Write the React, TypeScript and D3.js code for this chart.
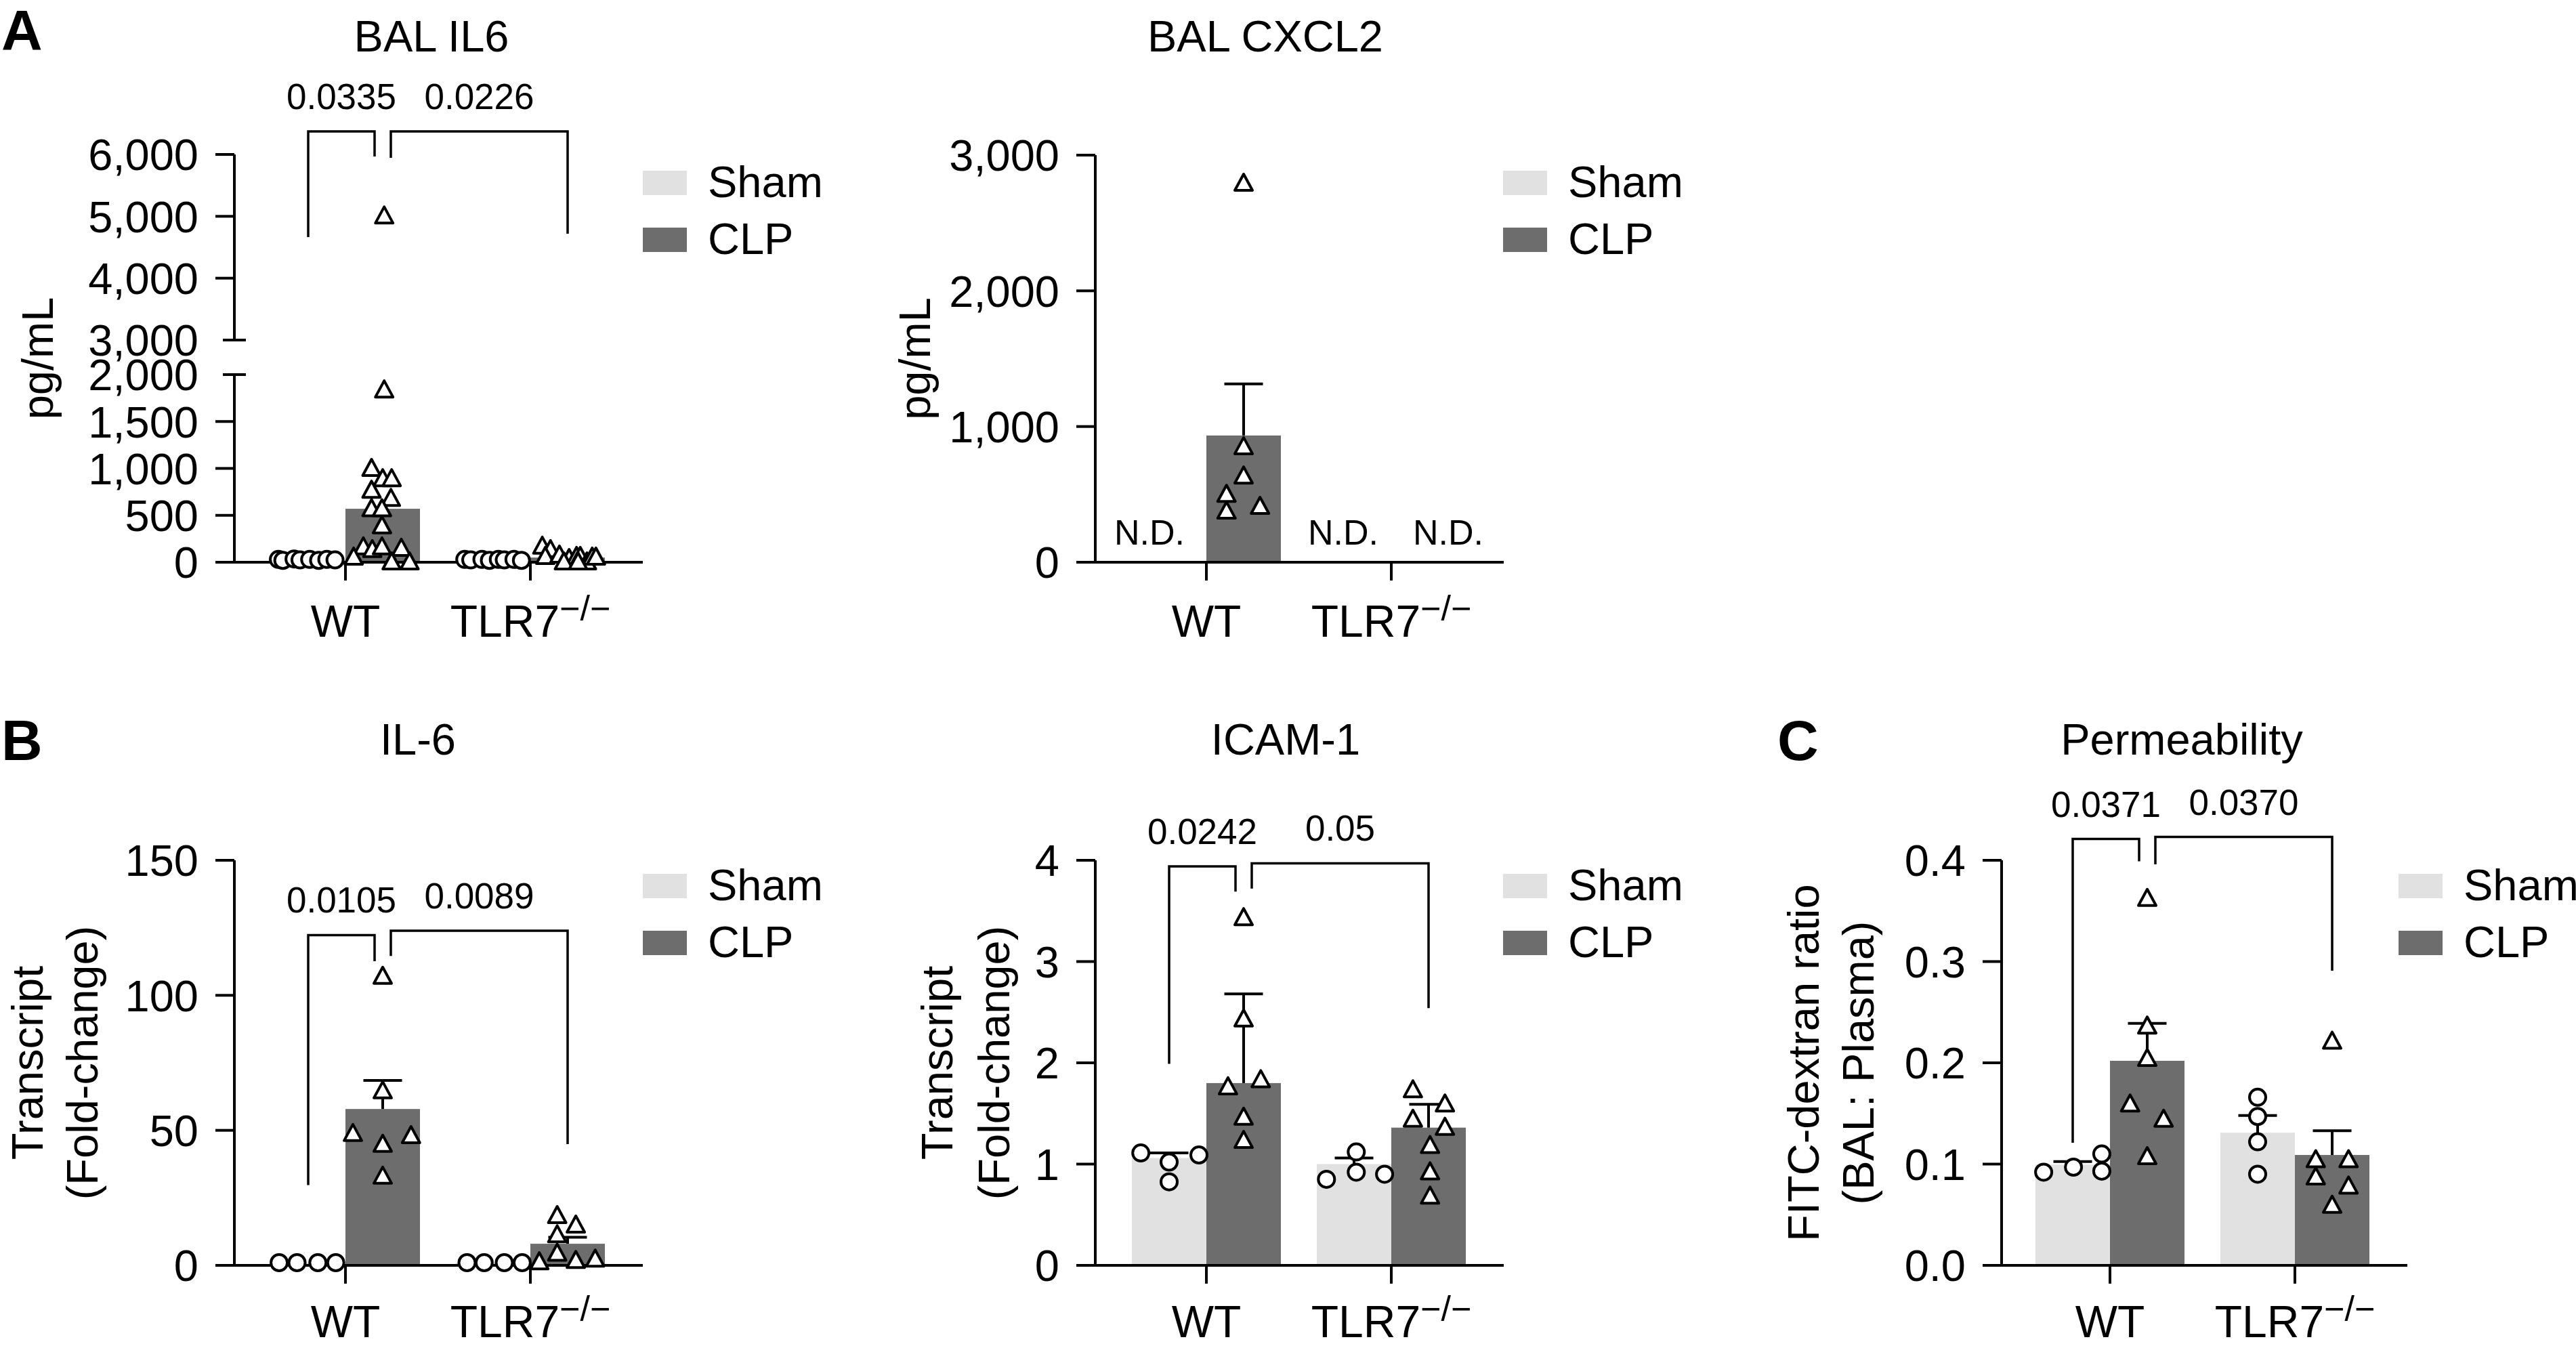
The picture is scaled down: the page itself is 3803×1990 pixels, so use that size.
import React from "react";
import * as d3 from "d3";

type Pt = [number, number]; // [value, horizontal jitter as fraction of bar width]

const GROUPS = ["WT", "TLR7"];
const SERIES = ["Sham", "CLP"];

// ---------------- A: BAL IL6 (pg/mL) ----------------
const balIl6Mean: (number | null)[][] = [[25, 570], [25, 50]];
const balIl6Sem: (number | null)[][] = [[null, null], [null, null]];
const balIl6ShamWT: Pt[] = [[30, -0.4], [20, -0.34], [35, -0.19], [25, -0.11], [30, 0.02], [20, 0.14], [30, 0.25], [25, 0.36]];
const balIl6ClpWT: Pt[] = [[5000, 0.02], [1833, 0.02], [996, -0.15], [887, 0.0], [887, 0.12], [764, -0.15], [676, 0.11], [567, -0.15], [567, -0.01], [385, -0.01], [160, -0.26], [131, -0.14], [160, -0.01], [145, 0.25], [51, -0.39], [0, 0.12], [0, 0.36]];
const balIl6ShamTLR: Pt[] = [[30, -0.38], [25, -0.3], [30, -0.15], [20, -0.05], [30, 0.07], [25, 0.15], [30, 0.28], [20, 0.38]];
const balIl6ClpTLR: Pt[] = [[167, -0.34], [131, -0.23], [58, -0.3], [73, -0.11], [36, 0.02], [58, 0.12], [58, 0.17], [0, 0.26], [51, 0.33], [51, 0.38], [0, -0.05], [0, 0.14]];
const balIl6Ticks = [[0, 500, 1000, 1500, 2000], [3000, 4000, 5000, 6000]];
const balIl6Domains = [[0, 2000], [3000, 6000]];

// ---------------- A: BAL CXCL2 (pg/mL) ----------------
const balCxcl2Mean: (number | null)[][] = [[null, 934], [null, null]];
const balCxcl2Sem: (number | null)[][] = [[null, 380], [null, null]];
const balCxcl2ClpWT: Pt[] = [[2790, 0], [849, 0], [633, 0], [498, -0.23], [374, -0.23], [409, 0.22]];
const balCxcl2Ticks = [[0, 1000, 2000, 3000]];
const balCxcl2Domains = [[0, 3000]];

// ---------------- B: IL-6 transcript ----------------
const il6Mean: (number | null)[][] = [[1, 57.9], [1, 8.0]];
const il6Sem: (number | null)[][] = [[null, 10.6], [null, 2.4]];
const il6ShamWT: Pt[] = [[1, -0.39], [1, -0.15], [1, 0.13], [1, 0.37]];
const il6ClpWT: Pt[] = [[106.9, 0.0], [64.5, 0.0], [48.7, -0.4], [47.9, 0.38], [44.7, 0.0], [32.9, 0.0]];
const il6ShamTLR: Pt[] = [[1, -0.35], [1, -0.12], [1, 0.15], [1, 0.39]];
const il6ClpTLR: Pt[] = [[18.3, -0.14], [14.8, 0.11], [11.2, -0.14], [4.4, -0.14], [1.2, -0.38], [1.7, 0.11], [2.2, 0.37]];
const il6Ticks = [[0, 50, 100, 150]];
const il6Domains = [[0, 150]];

// ---------------- B: ICAM-1 transcript ----------------
const icamMean: (number | null)[][] = [[1.06, 1.8], [1.0, 1.36]];
const icamSem: (number | null)[][] = [[0.05, 0.88], [0.06, 0.23]];
const icamShamWT: Pt[] = [[1.11, -0.38], [1.02, 0.0], [0.825, 0.0], [1.09, 0.4]];
const icamClpWT: Pt[] = [[3.43, 0], [2.43, 0], [1.76, -0.21], [1.83, 0.23], [1.46, 0], [1.23, 0]];
const icamShamTLR: Pt[] = [[0.85, -0.37], [1.12, 0.03], [0.92, 0.03], [0.9, 0.41]];
const icamClpTLR: Pt[] = [[1.73, -0.21], [1.59, 0.22], [1.44, -0.21], [1.36, 0.22], [1.18, 0.02], [0.92, 0.02], [0.68, 0.02]];
const icamTicks = [[0, 1, 2, 3, 4]];
const icamDomains = [[0, 4]];

// ---------------- C: Permeability ----------------
const permMean: (number | null)[][] = [[0.0995, 0.202], [0.131, 0.109]];
const permSem: (number | null)[][] = [[0.003, 0.037], [0.017, 0.024]];
const permShamWT: Pt[] = [[0.092, -0.39], [0.097, 0.01], [0.11, 0.39], [0.093, 0.39]];
const permClpWT: Pt[] = [[0.362, 0], [0.236, 0], [0.204, 0], [0.159, -0.23], [0.144, 0.22], [0.107, 0]];
const permShamTLR: Pt[] = [[0.166, 0], [0.147, 0], [0.122, 0], [0.09, 0]];
const permClpTLR: Pt[] = [[0.221, 0], [0.104, -0.22], [0.104, 0.22], [0.087, -0.22], [0.078, 0.22], [0.059, 0]];
const permTicks = [[0, 0.1, 0.2, 0.3, 0.4]];
const permDomains = [[0, 0.4]];

// ---------------- significance annotations ----------------
type Bracket = { p: string; top: number; leftEnd: number; rightEnd: number; from: [number, number]; to: [number, number]; gap: "right" | "left" };
const balIl6Brackets: Bracket[] = [
  { p: "0.0335", top: 6372, leftEnd: 4664, rightEnd: 5967, from: [0, 0], to: [0, 1], gap: "right" },
  { p: "0.0226", top: 6372, leftEnd: 5945, rightEnd: 4719, from: [0, 1], to: [1, 1], gap: "left" },
];
const il6Brackets: Bracket[] = [
  { p: "0.0105", top: 122.3, leftEnd: 29.7, rightEnd: 112.6, from: [0, 0], to: [0, 1], gap: "right" },
  { p: "0.0089", top: 123.9, leftEnd: 114.6, rightEnd: 44.9, from: [0, 1], to: [1, 1], gap: "left" },
];
const icamBrackets: Bracket[] = [
  { p: "0.0242", top: 3.94, leftEnd: 1.99, rightEnd: 3.69, from: [0, 0], to: [0, 1], gap: "right" },
  { p: "0.05", top: 3.97, leftEnd: 3.72, rightEnd: 2.54, from: [0, 1], to: [1, 1], gap: "left" },
];
const permBrackets: Bracket[] = [
  { p: "0.0371", top: 0.421, leftEnd: 0.121, rightEnd: 0.399, from: [0, 0], to: [0, 1], gap: "right" },
  { p: "0.0370", top: 0.423, leftEnd: 0.396, rightEnd: 0.291, from: [0, 1], to: [1, 1], gap: "left" },
];

// ---------------- styling ----------------
const FONT = "'Liberation Sans', Arial, Helvetica, sans-serif";
const LIGHT = "#e1e1e1";
const DARK = "#6d6d6d";
const SW = 4;
const BARW = 110;
const FS = 65;

type PanelCfg = {
  title: string;
  titleX: number;
  axisX: number;
  axisY: number;
  groupX: [number, number];
  ranges: [number, number][];
  domains: number[][];
  ticks: number[][];
  fmt: (v: number) => string;
  ylabel: string[];
  ylabelX: number[];
  legendX: number;
  xLabelDy: number;
  mean: (number | null)[][];
  sem: (number | null)[][];
  points: Pt[][][];
  brackets: Bracket[];
  ndDx?: (number | null)[][];
};

const triPath = "M0,-14 L13,10 L-13,10 Z";

function Panel({ c }: { c: PanelCfg }) {
  const scales = c.domains.map((d, i) => d3.scaleLinear().domain(d).range(c.ranges[i]));
  const y = (v: number) => {
    for (let i = scales.length - 1; i >= 0; i--) {
      if (v >= c.domains[i][0] || i === 0) return scales[i](v);
    }
    return scales[0](v);
  };
  const xg = d3.scalePoint<string>().domain(GROUPS).range(c.groupX);
  const barCenter = (g: number, s: number) => (xg(GROUPS[g]) as number) + (s === 0 ? -BARW / 2 : BARW / 2);
  const topTick = c.ranges[c.ranges.length - 1][1];
  const broken = scales.length > 1;
  const rowTitleY = c.axisY - 754;

  return (
    <g>
      <text x={c.titleX} y={rowTitleY} textAnchor="middle" fontSize={FS} fontFamily={FONT}>{c.title}</text>
      {/* bars */}
      {c.mean.map((row, gi) =>
        row.map((m, si) =>
          m === null ? null : (
            <rect key={`b${gi}${si}`} x={barCenter(gi, si) - BARW / 2} y={y(m)} width={BARW} height={c.axisY - y(m)} fill={si === 0 ? LIGHT : DARK} />
          )
        )
      )}
      {/* N.D. labels */}
      {c.ndDx &&
        c.ndDx.map((row, gi) =>
          row.map((dx, si) =>
            dx === null ? null : (
              <text key={`nd${gi}${si}`} x={barCenter(gi, si) + dx} y={c.axisY - 26} textAnchor="middle" fontSize={52} fontFamily={FONT}>N.D.</text>
            )
          )
        )}
      {/* error bars */}
      {c.sem.map((row, gi) =>
        row.map((e, si) => {
          const m = c.mean[gi][si];
          if (e === null || m === null) return null;
          const cx = barCenter(gi, si);
          return (
            <g key={`e${gi}${si}`} stroke="#000" strokeWidth={SW}>
              <line x1={cx} x2={cx} y1={y(m)} y2={y(m + e)} />
              <line x1={cx - 28.5} x2={cx + 28.5} y1={y(m + e)} y2={y(m + e)} />
            </g>
          );
        })
      )}
      {/* axes */}
      <g stroke="#000" strokeWidth={SW} fill="none">
        {c.ranges.map((r, i) => (
          <line key={`ya${i}`} x1={c.axisX} x2={c.axisX} y1={r[0] + (i === 0 ? SW / 2 : 0)} y2={r[1]} />
        ))}
        {c.ticks.map((ts, si) =>
          ts.map((t) => {
            const isBreak = broken && ((si === 0 && t === c.domains[0][1]) || (si === 1 && t === c.domains[1][0]));
            const yy = scales[si](t);
            return isBreak ? (
              <line key={`t${si}${t}`} x1={c.axisX - 17} x2={c.axisX + 17} y1={yy} y2={yy} />
            ) : (
              <line key={`t${si}${t}`} x1={c.axisX - 28} x2={c.axisX} y1={yy} y2={yy} />
            );
          })
        )}
        <line x1={c.axisX - 28} x2={c.groupX[1] + 166} y1={c.axisY} y2={c.axisY} />
        {GROUPS.map((g) => (
          <line key={`xt${g}`} x1={xg(g)} x2={xg(g)} y1={c.axisY} y2={c.axisY + 27} />
        ))}
      </g>
      {c.ticks.map((ts, si) =>
        ts.map((t) => (
          <text key={`tl${si}${t}`} x={c.axisX - 53} y={scales[si](t)} dy="0.36em" textAnchor="end" fontSize={FS} fontFamily={FONT}>
            {c.fmt(t)}
          </text>
        ))
      )}
      {/* x labels */}
      <text x={xg("WT")} y={c.axisY + c.xLabelDy} textAnchor="middle" fontSize={66} fontFamily={FONT}>WT</text>
      <text x={xg("TLR7")} y={c.axisY + c.xLabelDy} textAnchor="middle" fontSize={66} fontFamily={FONT}>
        TLR7<tspan dy={-24} fontSize={52}>{"\u2212/\u2212"}</tspan>
      </text>
      {/* y label */}
      {c.ylabel.map((l, i) => (
        <text
          key={`yl${i}`}
          transform={`translate(${c.ylabelX[i]},${(c.axisY + topTick) / 2}) rotate(-90)`}
          textAnchor="middle"
          dominantBaseline="central"
          fontSize={FS}
          fontFamily={FONT}
        >
          {l}
        </text>
      ))}
      {/* points */}
      {c.points.map((row, gi) =>
        row.map((pts, si) =>
          pts.map((p, k) => {
            const cx = barCenter(gi, si) + p[1] * BARW;
            const cy = y(p[0]);
            return si === 0 ? (
              <circle key={`p${gi}${si}${k}`} cx={cx} cy={cy} r={12} fill="#fff" stroke="#000" strokeWidth={SW} />
            ) : (
              <path key={`p${gi}${si}${k}`} d={triPath} transform={`translate(${cx},${cy})`} fill="#fff" stroke="#000" strokeWidth={SW} strokeLinejoin="round" />
            );
          })
        )
      )}
      {/* brackets */}
      {c.brackets.map((b, i) => {
        let xa = barCenter(b.from[0], b.from[1]);
        let xb = barCenter(b.to[0], b.to[1]);
        if (b.gap === "right") xb -= 12;
        else xa += 12;
        const yt = y(b.top);
        return (
          <g key={`br${i}`}>
            <path d={`M${xa},${y(b.leftEnd)} V${yt} H${xb} V${y(b.rightEnd)}`} fill="none" stroke="#000" strokeWidth={3.5} />
            <text x={(xa + xb) / 2} y={yt - 33} textAnchor="middle" fontSize={53} fontFamily={FONT}>{b.p}</text>
          </g>
        );
      })}
      {/* legend */}
      {SERIES.map((s, i) => (
        <g key={`lg${s}`}>
          <rect x={c.legendX} y={c.axisY - 578 + i * 84} width={65} height={36} fill={i === 0 ? LIGHT : DARK} />
          <text x={c.legendX + 96} y={c.axisY - 578 + i * 84 + 39} fontSize={FS} fontFamily={FONT}>{s}</text>
        </g>
      ))}
    </g>
  );
}

const fmtComma = d3.format(",");
const fmtInt = d3.format("d");
const fmt1 = d3.format(".1f");

const panels: PanelCfg[] = [
  {
    title: "BAL IL6", titleX: 637, axisX: 346, axisY: 830, groupX: [510, 783],
    ranges: [[830, 553], [502, 228]], domains: balIl6Domains, ticks: balIl6Ticks, fmt: fmtComma,
    ylabel: ["pg/mL"], ylabelX: [55], legendX: 949, xLabelDy: 110,
    mean: balIl6Mean, sem: balIl6Sem,
    points: [[balIl6ShamWT, balIl6ClpWT], [balIl6ShamTLR, balIl6ClpTLR]],
    brackets: balIl6Brackets,
  },
  {
    title: "BAL CXCL2", titleX: 1868, axisX: 1617, axisY: 830, groupX: [1781, 2054],
    ranges: [[830, 229]], domains: balCxcl2Domains, ticks: balCxcl2Ticks, fmt: fmtComma,
    ylabel: ["pg/mL"], ylabelX: [1350], legendX: 2219, xLabelDy: 110,
    mean: balCxcl2Mean, sem: balCxcl2Sem,
    points: [[[], balCxcl2ClpWT], [[], []]],
    brackets: [],
    ndDx: [[-29, null], [-16, 29]],
  },
  {
    title: "IL-6", titleX: 617, axisX: 346, axisY: 1868, groupX: [510, 783],
    ranges: [[1868, 1270]], domains: il6Domains, ticks: il6Ticks, fmt: fmtInt,
    ylabel: ["Transcript", "(Fold-change)"], ylabelX: [40, 121], legendX: 949, xLabelDy: 106,
    mean: il6Mean, sem: il6Sem,
    points: [[il6ShamWT, il6ClpWT], [il6ShamTLR, il6ClpTLR]],
    brackets: il6Brackets,
  },
  {
    title: "ICAM-1", titleX: 1898, axisX: 1617, axisY: 1868, groupX: [1781, 2054],
    ranges: [[1868, 1270]], domains: icamDomains, ticks: icamTicks, fmt: fmtInt,
    ylabel: ["Transcript", "(Fold-change)"], ylabelX: [1383, 1467], legendX: 2219, xLabelDy: 106,
    mean: icamMean, sem: icamSem,
    points: [[icamShamWT, icamClpWT], [icamShamTLR, icamClpTLR]],
    brackets: icamBrackets,
  },
  {
    title: "Permeability", titleX: 3221, axisX: 2955, axisY: 1868, groupX: [3115, 3388],
    ranges: [[1868, 1270]], domains: permDomains, ticks: permTicks, fmt: fmt1,
    ylabel: ["FITC-dextran ratio", "(BAL: Plasma)"], ylabelX: [2662, 2743], legendX: 3541, xLabelDy: 106,
    mean: permMean, sem: permSem,
    points: [[permShamWT, permClpWT], [permShamTLR, permClpTLR]],
    brackets: permBrackets,
  },
];

export default function App() {
  return (
    <svg
      width={3803}
      height={1990}
      viewBox="0 0 3803 1990"
      style={{ position: "absolute", left: 0, top: 0, background: "#fff" }}
    >
      <rect width={3803} height={1990} fill="#fff" />
      <text x={2} y={74} fontSize={84} fontWeight="bold" fontFamily={FONT}>A</text>
      <text x={2} y={1122} fontSize={84} fontWeight="bold" fontFamily={FONT}>B</text>
      <text x={2624} y={1122} fontSize={84} fontWeight="bold" fontFamily={FONT}>C</text>
      {panels.map((p, i) => (
        <Panel key={i} c={p} />
      ))}
    </svg>
  );
}
